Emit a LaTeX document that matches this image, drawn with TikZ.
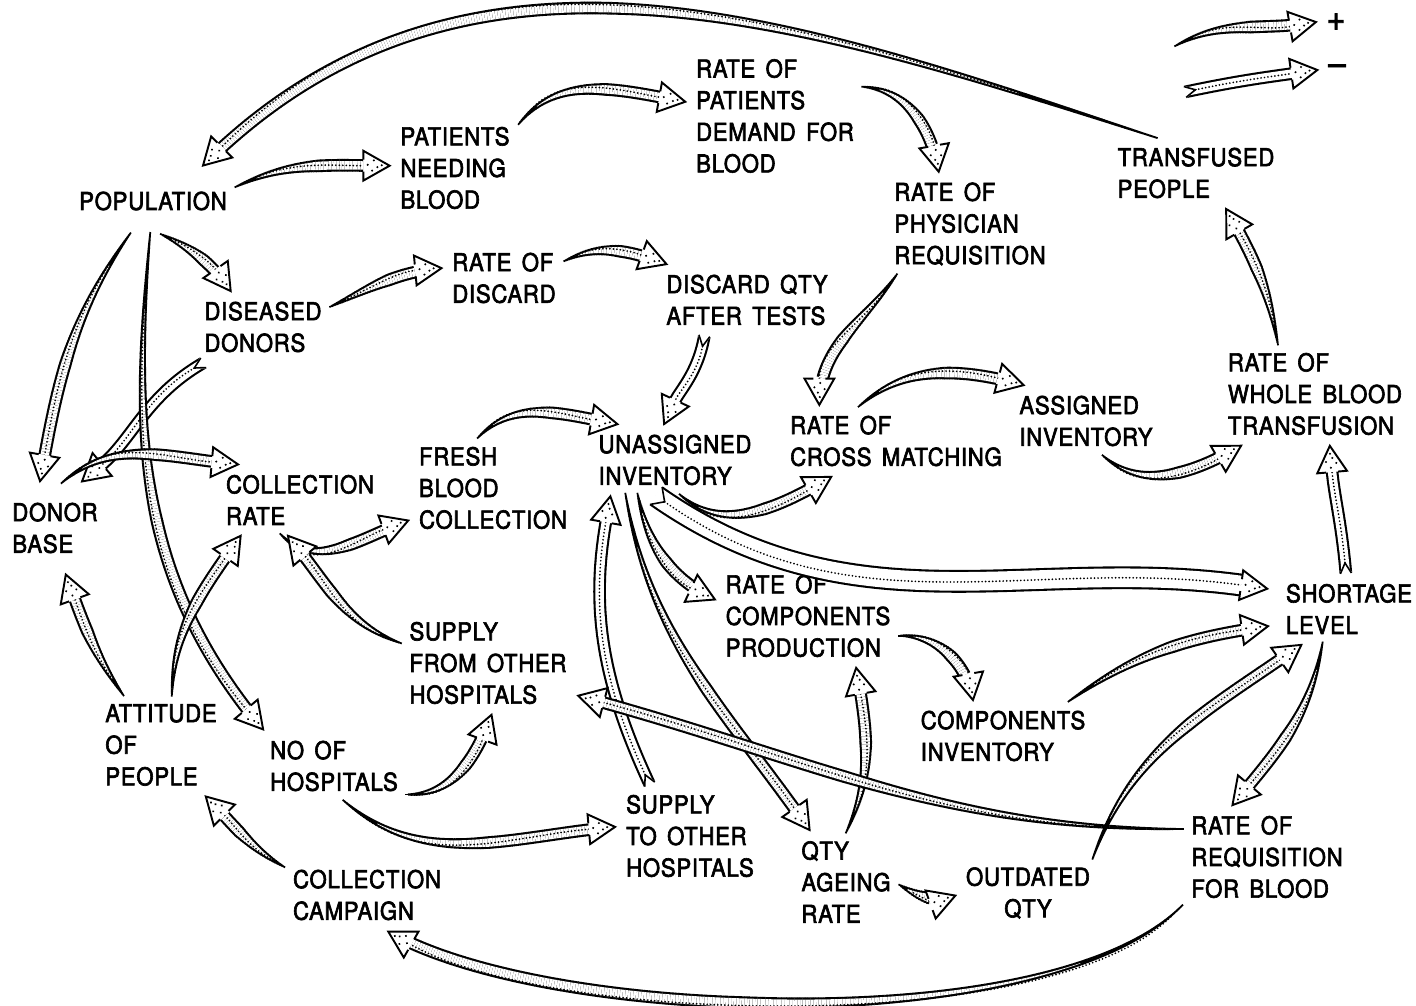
\documentclass[tikz,border=0pt]{standalone}
\usepackage{fontspec}
\setmainfont{TeX Gyre Heros}[FakeStretch=0.9,FakeBold=2.5,LetterSpace=3,WordSpace=1.5]
\usetikzlibrary{decorations.markings}

\newcommand\nodefont{\fontsize{14}{18}\selectfont}
% one slice of a tapered link
\newcommand\bandbit{%
  \pgfmathsetmacro\dd{\pgfkeysvalueof{/pgf/decoration/mark info/distance from start}}%
  \pgfmathsetmacro\rr{min(1,\dd/(0.55*\pgfdecoratedpathlength))*3.1+0.5}%
  \pgfmathparse{\dd<\pgfdecoratedpathlength-14.5}%
  \ifdim\pgfmathresult pt>0.5pt
    \draw[plain,line width=2*\rr pt] (0,0) -- (-1.7pt,0);
    \pgfmathparse{\rr>1.3}%
    \ifdim\pgfmathresult pt>0.5pt
      \draw[plain,draw=white,line width=2*\rr pt-2.4pt] (0,0) -- (-1.7pt,0);
    \fi
  \fi}
% head of a link
\newcommand\linkhead{%
  \fill[white,plain] (0,0) -- (-15pt,8.5pt) -- (-15pt,-8.5pt) -- cycle;
  \draw[draw=black,plain,line width=1.1pt,line join=miter]
    (-15pt,3.4pt) -- (-15pt,8.5pt) -- (0,0) -- (-15pt,-8.5pt) -- (-15pt,-3.4pt);
  \fill[black,plain] (-4.5pt,0.3pt) circle (0.65pt) (-9pt,3pt) circle (0.65pt)
    (-10pt,-2.8pt) circle (0.65pt) (-12.5pt,0.5pt) circle (0.65pt)
    (-7pt,-0.8pt) circle (0.65pt);}
% notched tail of a negative link
\newcommand\linknotch[1]{%
  \fill[white,plain] (-0.5pt,{#1/2+0.5pt}) -- (6pt,0) -- (-0.5pt,{-#1/2-0.5pt}) -- cycle;
  \draw[draw=black,plain,line width=0.9pt]
    (0,{#1/2-0.45pt}) -- (6pt,0) -- (0,{-#1/2+0.45pt});}

\tikzset{
  plain/.style={solid,shorten >=0pt,shorten <=0pt,line cap=butt},
  pluslink/.style={
    postaction={decorate,decoration={markings,
      mark=between positions 0 and 1 step 1.5pt with {\bandbit}}},
    postaction={draw,line width=1.1pt,line cap=round,dash pattern=on 0pt off 2pt,
      shorten >=15pt,shorten <=8pt},
    postaction={decorate,decoration={markings,mark=at position 0.998 with {\linkhead}}}},
  neglink/.style={
    preaction={draw,line width=#1,shorten >=14.5pt},
    preaction={draw=white,line width=#1-2.4pt,shorten >=14.5pt},
    postaction={draw,line width=1.1pt,line cap=round,dash pattern=on 0pt off 2pt,
      shorten >=15pt,shorten <=6pt},
    postaction={decorate,decoration={markings,
      mark=at position 0 with {\linknotch{#1}},
      mark=at position 0.998 with {\linkhead}}}},
  neglink/.default=7.2pt
}

\begin{document}
\begin{tikzpicture}[x=0.02cm,y=0.02cm]
  \tikzstyle{every node}=[align=left, inner sep=4pt, outer sep=2pt, font=\nodefont]
  \useasboundingbox (0,0) rectangle (1416,1006);

  % stocks and rates
  \node[inner ysep=12pt] (pop) at (153,805) {POPULATION};
  \node (pnb) at (455,838) {PATIENTS\\NEEDING\\BLOOD};
  \node (rpd) at (775,890) {RATE OF\\PATIENTS\\DEMAND FOR\\BLOOD};
  \node (rpr) at (970,782) {RATE OF\\PHYSICIAN\\REQUISITION};
  \node (trp) at (1196,833) {TRANSFUSED\\PEOPLE};
  \node (dis) at (263,679) {DISEASED\\DONORS};
  \node (rod) at (504,728) {RATE OF\\DISCARD};
  \node (dqt) at (747,706) {DISCARD QTY\\AFTER TESTS};
  \node[inner ysep=10pt] (dob) at (55,478) {DONOR\\BASE};
  \node (cor) at (300,506) {COLLECTION\\RATE};
  \node (fbc) at (493,518) {FRESH\\BLOOD\\COLLECTION};
  \node (uni) at (675,546) {UNASSIGNED\\INVENTORY};
  \node (rcm) at (896,565) {RATE OF\\CROSS MATCHING};
  \node (asi) at (1086,585) {ASSIGNED\\INVENTORY};
  \node (rwt) at (1315,612) {RATE OF\\WHOLE BLOOD\\TRANSFUSION};
  \node[inner xsep=8pt] (sho) at (1349,397) {SHORTAGE\\LEVEL};
  \node (rcp) at (808,390) {RATE OF\\COMPONENTS\\PRODUCTION};
  \node (sfh) at (488,343) {SUPPLY\\FROM OTHER\\HOSPITALS};
  \node (coi) at (1003,270) {COMPONENTS\\INVENTORY};
  \node (att) at (161,261) {ATTITUDE\\OF\\PEOPLE};
  \node (noh) at (334,240) {NO OF\\HOSPITALS};
  \node (sth) at (690,170) {SUPPLY\\TO OTHER\\HOSPITALS};
  \node (qar) at (846,124) {QTY\\AGEING\\RATE};
  \node[align=center] (out) at (1028,113) {OUTDATED\\QTY};
  \node (rrb) at (1267,149) {RATE OF\\REQUISITION\\FOR BLOOD};
  \node (coc) at (367,111) {COLLECTION\\CAMPAIGN};

  % legend
  \node[font=\fontsize{20}{20}\selectfont] (plus) at (1336,984) {+};
  \node[font=\fontsize{20}{20}\selectfont] (minus) at (1337,936) {\textendash};
  \coordinate (pa) at (1177,961);
  \coordinate (ma) at (1185,914);
  \path[pluslink] (pa) to[out=28,in=190] (plus.west);
  \path[neglink] (ma) to[out=12,in=188] (minus.west);

  % links
  \path[pluslink] (trp.139) to[out=162,in=45] (pop.35);
  \path[pluslink] (pop.10) to[out=25,in=180] (pnb.178);
  \path[pluslink] (pnb.35) to[out=50,in=170] (rpd.171);
  \path[pluslink] (rpd.18) to[out=-5,in=100] (rpr.121);
  \path[pluslink] (pop.-74) to[out=-25,in=125] (dis.132);
  \path[pluslink] (dis.17) to[out=25,in=185] (rod.171);
  \path[pluslink] (rod.16) to[out=25,in=160] (dqt.156);
  \path[neglink] (dqt.220) to[out=-100,in=65] (uni.107);
  \path[pluslink] (rpr.215) to[out=-125,in=90] (rcm.155);
  \path[pluslink] (rcm.135) to[out=40,in=165] (asi.150);
  \path[pluslink] (asi.-63) to[out=-40,in=210] (rwt.215);
  \path[pluslink] (rwt.126) to[out=100,in=-60] (trp.-50);
  \path[neglink] (sho.95) to[out=95,in=-85] (rwt.-74);
  \path[pluslink] (pop.235) to[out=-125,in=80] (dob.108);
  \path[neglink] (dis.211) to[out=-150,in=40] (dob.60);
  \path[pluslink] (pop.265) to[out=-95,in=130] (noh.153);
  \path[pluslink] (dob.80) to[out=40,in=175] (cor.150);
  \path[pluslink] (att.78) to[out=88,in=-125] (cor.211);
  \path[pluslink] (att.127) to[out=125,in=-70] (dob.-77);
  \path[pluslink] (cor.243) to[out=-45,in=200] (fbc.201);
  \path[pluslink] (fbc.105) to[out=45,in=170] (uni.148);
  \path[pluslink] (uni.-80) to[out=-40,in=210] (rcm.209);
  \path[neglink=13pt] (uni.242) to[out=-35,in=172] (sho.166);
  \path[pluslink] (uni.224) to[out=-78,in=155] (rcp.170);
  \path[pluslink] (uni.216) to[out=-80,in=125] (qar.125);
  \path[neglink] (sth.128) to[out=115,in=-100] (uni.209);
  \path[pluslink] (sfh.167) to[out=160,in=-50] (cor.251);
  \path[pluslink] (noh.-21) to[out=0,in=-110] (sfh.-86);
  \path[pluslink] (noh.-73) to[out=-40,in=185] (sth.173);
  \path[pluslink] (rcp.-12) to[out=0,in=100] (coi.130);
  \path[pluslink] (qar.89) to[out=65,in=-80] (rcp.-47);
  \path[pluslink] (qar.-4) to[out=-30,in=200] (out.182);
  \path[pluslink] (out.29) to[out=70,in=215] (sho.217);
  \path[pluslink] (coi.28) to[out=35,in=188] (sho.192);
  \path[pluslink] (sho.233) to[out=-100,in=50] (rrb.124);
  \path[pluslink] (rrb.162) to[out=180,in=-15] (sfh.-20);
  \path[pluslink] (rrb.210) to[out=-135,in=-30,looseness=0.6] (coc.-61);
  \path[pluslink] (coc.161) to[out=150,in=-45] (att.-49);
\end{tikzpicture}
\end{document}
